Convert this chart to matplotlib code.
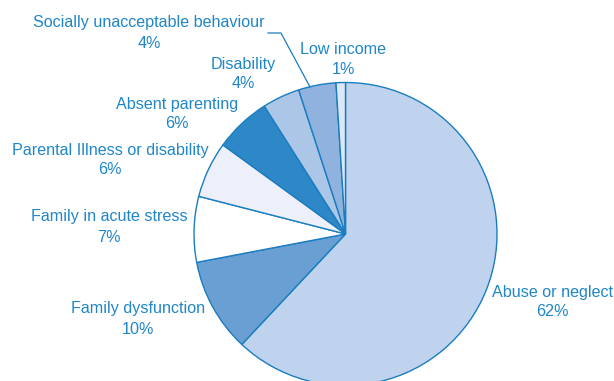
import numpy as np
import matplotlib.pyplot as plt

# data
categories = ["Abuse or neglect", "Family dysfunction", "Family in acute stress",
              "Parental Illness or disability", "Absent parenting", "Disability",
              "Socially unacceptable behaviour", "Low income"]
percent = [62, 10, 7, 6, 6, 4, 4, 1]

colors = ["#c0d3ee", "#6a9fd4", "#ffffff", "#edf0fa",
          "#2e88c8", "#abc6e6", "#8fb2de", "#dde8f6"]
edge = "#1a7dc0"
txt = "#1f86c8"

W, H = 614, 381
# label centres in pixel coords (x, y of first line, from top)
label_pos = [(552, 292), (138, 309), (109, 217), (110, 150),
             (177, 104), (243, 64), (149, 23), (343, 50)]

plt.rcParams['font.family'] = ['Liberation Sans', 'DejaVu Sans']

fig = plt.figure(figsize=(W / 100, H / 100), dpi=100)
ax = fig.add_axes([0, 0, 1, 1])

cx, cy, r = 345.5, H - 234, 151.5
ax.pie(percent, colors=colors, startangle=90, counterclock=False,
       center=(cx, cy), radius=r, frame=True,
       wedgeprops=dict(edgecolor=edge, linewidth=1.0))

for name, p, (x, y) in zip(categories, percent, label_pos):
    ax.text(x, H - y, name, ha="center", va="center", color=txt, fontsize=11.6)
    ax.text(x, H - y - 20, "%d%%" % p, ha="center", va="center", color=txt, fontsize=11.6)

# leader line for the small slice
ax.plot([268, 281, 310], [H - 33, H - 33, H - 87], color=edge, lw=0.9)

ax.set_xlim(0, W)
ax.set_ylim(0, H)
ax.set_aspect("equal")
ax.axis("off")

fig.savefig("out.png", dpi=100)
